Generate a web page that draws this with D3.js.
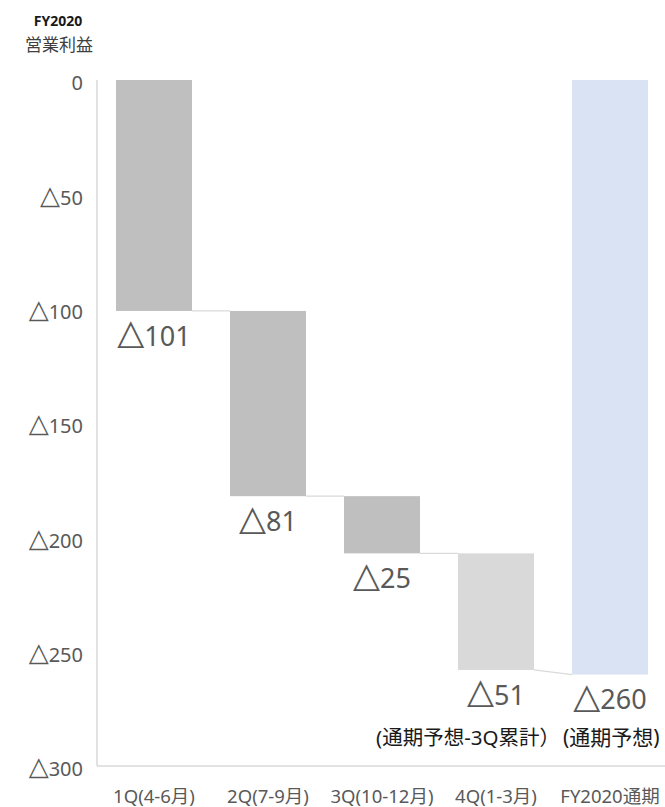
<!DOCTYPE html>
<html><head><meta charset="utf-8">
<script src="https://cdn.jsdelivr.net/npm/d3@7/dist/d3.min.js"></script>
<style>
body{margin:0;background:#fff;}
svg{display:block;}
text{font-family:"Noto Sans","Noto Sans CJK JP",sans-serif;}
</style></head>
<body>
<svg id="c" width="665" height="807"></svg>
<script>
const categories = ["1Q(4-6月)", "2Q(7-9月)", "3Q(10-12月)", "4Q(1-3月)", "FY2020通期"];
const values = [-101, -81, -25, -51, -260];
const isTotal = [false, false, false, false, true];
const subLabels = ["", "", "", "(通期予想-3Q累計）", "(通期予想)"];
const yTicks = [0, -50, -100, -150, -200, -250, -300];
const titleLines = ["FY2020", "営業利益"];

const barFill = ["#bfbfbf", "#bfbfbf", "#bfbfbf", "#d9d9d9", "#dae3f3"];

const svg = d3.select("#c");
const x = d3.scaleBand().domain(categories).range([97, 667]).paddingInner(1/3).paddingOuter(1/6);
const y = d3.scaleLinear().domain([0, -300]).range([80, 766]);

// writes "△n" with a larger triangle glyph; text y must be the baseline
function writeNum(sel, v, size) {
  const lift = size * 0.05;
  sel.each(function(d) {
    const val = typeof v === "function" ? v(d) : v;
    const t = d3.select(this);
    if (val < 0) {
      t.append("tspan").attr("font-size", size * 1.3).attr("font-family", "DejaVu Sans").attr("dy", -lift).text("△");
      t.append("tspan").attr("font-size", size).attr("dy", lift).text(String(-val));
    } else {
      t.append("tspan").attr("font-size", size).text(String(val));
    }
  });
}

let cum = 0;
const segs = categories.map((c, i) => {
  let start, end;
  if (isTotal[i]) { start = 0; end = values[i]; }
  else { start = cum; end = cum + values[i]; cum = end; }
  return {c, i, start, end, v: values[i]};
});

// axes lines
svg.append("line").attr("x1", 97).attr("x2", 97).attr("y1", y(0)).attr("y2", y(-300))
  .attr("stroke", "#d9d9d9").attr("stroke-width", 1.5);
svg.append("line").attr("x1", 97).attr("x2", 667).attr("y1", y(-300)).attr("y2", y(-300))
  .attr("stroke", "#d9d9d9").attr("stroke-width", 1.5);

// y tick labels
svg.append("g").selectAll("text").data(yTicks).join("text")
  .attr("x", 83).attr("y", d => y(d) + 3 + 20 * 0.36)
  .attr("text-anchor", "end").attr("font-size", 20).attr("fill", "#595959")
  .call(writeNum, d => d, 20);

// bars
svg.append("g").selectAll("rect").data(segs).join("rect")
  .attr("x", d => x(d.c)).attr("width", x.bandwidth())
  .attr("y", d => y(Math.max(d.start, d.end)))
  .attr("height", d => Math.abs(y(d.end) - y(d.start)))
  .attr("fill", d => barFill[d.i]);

// connectors
for (let i = 0; i < segs.length - 1; i++) {
  const a = segs[i], b = segs[i + 1];
  const yb = isTotal[i + 1] ? b.end : b.start;
  svg.append("line")
    .attr("x1", x(a.c) + x.bandwidth()).attr("y1", y(a.end))
    .attr("x2", x(b.c)).attr("y2", y(yb))
    .attr("stroke", "#d9d9d9").attr("stroke-width", 1.2);
}

// value labels
svg.append("g").selectAll("text").data(segs).join("text")
  .attr("x", d => x(d.c) + x.bandwidth() / 2)
  .attr("y", d => y(d.end) + 25 + 27 * 0.36)
  .attr("text-anchor", "middle").attr("font-size", 27).attr("fill", "#595959")
  .call(writeNum, d => d.v, 27);

// sub labels
const sub = svg.append("g");
sub.append("text").attr("x", x(categories[3]) + x.bandwidth() + 26).attr("y", 738).attr("dy", "0.35em")
  .attr("text-anchor", "end").attr("font-size", 20.5).attr("fill", "#1a1a1a").text(subLabels[3]);
sub.append("text").attr("x", x(categories[4]) - 9).attr("y", 738).attr("dy", "0.35em")
  .attr("text-anchor", "start").attr("font-size", 21).attr("fill", "#1a1a1a").text(subLabels[4]);

// category labels
svg.append("g").selectAll("text").data(categories).join("text")
  .attr("x", d => x(d) + x.bandwidth() / 2).attr("y", 797).attr("dy", "0.35em")
  .attr("text-anchor", "middle").attr("font-size", 18.5).attr("fill", "#595959")
  .text(d => d);

// title
svg.append("text").attr("x", 58).attr("y", 21).attr("dy", "0.35em").attr("text-anchor", "middle")
  .attr("font-size", 14).attr("font-weight", "bold").attr("fill", "#1a1a1a").text(titleLines[0]);
svg.append("text").attr("x", 59).attr("y", 45.5).attr("dy", "0.35em").attr("text-anchor", "middle")
  .attr("font-size", 17).attr("fill", "#404040").text(titleLines[1]);
</script>
</body></html>
